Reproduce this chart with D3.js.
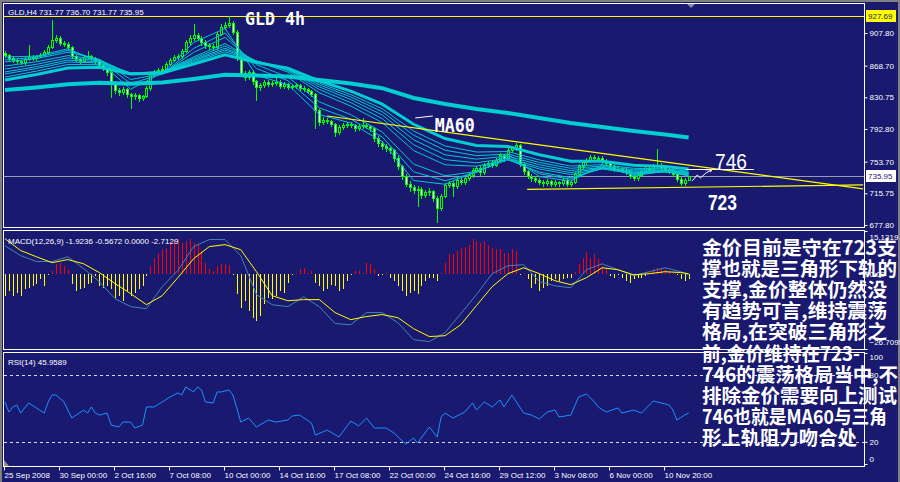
<!DOCTYPE html>
<html><head><meta charset="utf-8">
<script src="https://cdn.jsdelivr.net/npm/d3@7"></script>
<style>
html,body{margin:0;padding:0;background:#808080;}
svg{display:block;}
</style></head><body>
<svg id="c" width="900" height="482"></svg>
<script>
// ---------------- DATA ----------------
const firstOpen = 883.5;
const closes = [881.5,877.9,875.5,874.3,873.1,876.7,879.1,877.9,880.3,881.5,
885.0,891.0,899.4,901.8,895.8,894.6,891.0,880.3,876.7,874.3,
879.1,880.3,877.9,874.3,869.5,865.9,861.1,846.7,839.5,837.1,
840.7,834.7,832.3,833.5,829.9,832.3,841.9,858.7,861.1,863.5,
864.7,870.7,875.5,879.1,880.3,886.2,897.0,901.8,905.4,901.8,
897.0,893.4,892.2,891.0,906.6,915.0,917.4,919.8,909.0,877.9,
859.9,855.1,861.1,850.3,843.1,845.5,849.1,846.7,847.9,849.1,
844.3,846.7,843.1,844.3,845.5,841.9,840.7,838.3,834.7,815.6,
801.2,803.6,802.4,798.8,789.2,795.2,797.6,798.8,797.6,794.0,
796.4,797.6,796.4,794.0,782.0,776.1,772.5,770.1,767.7,758.1,
748.5,736.6,727.0,723.4,719.8,721.0,713.8,717.4,718.6,710.2,
698.2,712.6,725.8,728.2,724.6,731.8,729.4,734.2,737.7,743.7,
746.1,741.4,749.7,752.1,749.7,755.7,761.7,758.1,767.7,770.1,
773.7,751.0,742.5,736.6,734.2,731.8,729.4,728.2,730.6,727.0,
729.4,728.2,731.8,727.0,729.4,739.0,748.5,753.3,755.7,759.3,
758.1,758.1,754.5,752.1,748.5,744.9,744.9,743.7,741.4,736.6,
734.2,737.7,742.5,746.1,743.7,748.5,749.7,746.1,743.7,742.5,
739.0,733.0,728.2,731.77,735.95];
const highs = [886,883,880,878,876,879,893,882,882,884,
887,893,923,906,904,898,897,892,882,878,
881,886,882,879,876,871,867,862,848,842,
843,842,836,836,835,834,844,861,864,866,
868,873,878,882,883,889,900,905,918,908,
904,899,896,895,909,918,921,927.69,922,911,
880,862,864,863,852,848,852,851,850,857,
851,849,848,847,848,847,844,842,840,836,
817,807,806,804,800,797,800,801,801,799,
799,806,800,798,795,784,778,775,772,769,
760,750,739,730,726,724,723,720,722,720,
712,715,728,731,730,734,734,737,740,746,
749,748,752,755,754,758,764,763,770,773,
776,775,753,744,739,737,734,732,733,732,
732,731,734,733,732,741,751,756,758,762,
762,761,760,757,754,751,748,747,746,743,
739,740,745,749,748,751,769,752,748,746,
744,741,735,734,736.70];
const lows = [879,876,873,872,871,871,875,876,876,879,
880,884,890,897,894,892,889,878,874,872,
873,878,876,872,867,863,858,831,836,834,
835,831,818,829,826,827,831,840,856,859,
861,863,869,874,877,878,885,895,900,899,
894,890,889,888,889,905,913,915,907,875,
856,852,853,847,827,840,843,844,844,845,
842,842,841,841,842,839,838,836,832,794,
798,799,800,796,785,787,793,795,795,791,
792,794,794,791,779,773,769,767,764,755,
745,733,724,719,716,700,710,711,714,706,
681,696,711,723,712,722,727,727,732,735,
741,738,739,747,747,748,753,755,756,765,
768,748,739,734,731,729,727,725,726,724,
725,725,726,724,725,728,737,746,751,753,
755,755,752,750,746,742,742,741,739,734,
732,732,736,740,741,742,746,744,741,740,
736,730,726,726,731.77];

// moving averages sampled at bar indices
const maIdx = [0,8,16,24,32,40,48,56,64,72,80,88,96,104,112,120,128,136,144,152,160,168,174];
const maF10 = [879.1,880.1,888.9,873.3,840.5,859.9,896.4,913.3,857.1,845.9,810.1,800.0,777.8,731.1,726.6,742.1,762.5,735.8,730.4,749.5,737.0,742.2,736.5];
const maF15 = [875.5,878.7,886.9,875.5,847.2,858.6,889.3,907.8,865.3,850.7,818.1,804.6,783.3,741.5,730.9,740.7,758.3,739.2,732.6,746.9,738.3,741.7,737.4];
const maF20 = [873.1,877.1,884.7,876.3,852.1,858.9,884.5,902.6,869.9,855.1,825.3,810.0,789.2,750.8,736.8,741.8,756.0,741.2,734.5,745.3,739.1,741.5,737.9];
const maL30 = [868.3,873.3,880.7,876.1,858.1,860.9,879.2,895.1,873.6,861.0,836.3,820.3,800.5,767.0,749.9,748.2,756.1,744.9,738.3,744.9,740.4,741.7,738.9];
const maL35 = [864.7,870.3,878.0,874.8,859.2,861.2,877.5,892.2,874.2,862.8,840.1,824.4,805.3,773.9,756.1,752.3,757.8,747.2,740.6,745.7,741.3,742.2,739.5];
const maL40 = [861.1,867.5,875.3,873.3,859.8,861.3,875.9,889.5,874.2,864.0,843.2,828.1,809.6,779.9,761.9,756.7,760.3,750.0,743.0,746.7,742.5,742.9,740.4];
const maL45 = [858.7,865.2,873.0,871.9,860.0,861.5,874.7,887.5,874.2,864.8,845.7,831.2,813.6,785.4,767.4,760.9,762.8,752.7,745.7,748.3,744.0,743.9,741.2];
const maL50 = [855.1,862.1,870.0,869.9,859.5,861.0,873.2,885.3,873.8,865.4,847.8,834.0,817.1,790.3,772.5,765.2,765.8,755.7,748.4,750.1,745.7,745.1,742.3];
const ma60  = [851.5,858.2,865.9,866.7,858.6,860.0,870.7,881.6,872.5,865.5,850.5,838.1,822.6,798.5,781.4,773.1,771.8,761.9,754.2,754.2,749.4,747.9,744.9];
const maSlow= [839.5,842.6,846.3,848.1,846.9,848.4,852.8,857.9,856.8,855.7,851.5,847.4,841.7,829.9,822.7,816.7,811.9,805.9,799.9,795.1,790.3,786.1,782.5];

// MACD
const macdHist = [-8.0,-6.2,-8.0,-6.9,-8.0,-5.6,-5.0,-4.4,-3.8,-2.0,
-4.4,-0.4,0.8,3.3,3.9,2.8,1.2,-3.8,-6.2,-5.6,
-5.0,-3.8,-3.2,-1.0,-4.4,-5.0,-4.4,-5.6,-8.5,-8.0,
-9.7,-6.2,-8.0,-6.9,-5.6,-4.4,-0.8,2.7,5.7,7.4,
8.6,9.2,11.0,11.6,12.2,11.0,11.6,12.2,11.0,10.4,
8.0,3.9,1.5,0.9,2.7,3.3,3.5,3.0,-0.2,-7.3,
-12.1,-9.7,-13.2,-15.6,-16.8,-15.0,-10.9,-8.5,-9.1,-8.0,
-6.2,-6.9,-3.2,-0.2,0.4,1.5,2.1,0.3,0.9,-3.2,
-4.4,-6.2,-5.6,-4.0,-4.4,-6.2,-5.6,-2.6,-0.2,0.9,
0.9,0.3,3.9,3.3,1.5,-0.8,-0.5,0.2,-1.4,-2.6,
-4.4,-6.2,-8.0,-7.0,-6.2,-7.3,-4.4,-2.6,-1.4,-1.4,
-2.6,0.4,3.9,6.9,6.9,8.0,9.0,9.5,10.2,12.2,
11.6,11.0,11.6,10.0,9.2,8.8,8.6,7.4,7.4,8.6,
8.0,-0.2,0.4,-2.0,-5.0,-3.8,-6.2,-5.0,-4.4,-2.6,
-2.0,-2.6,-2.0,-1.6,-1.4,0.5,3.3,5.7,7.8,5.7,
6.9,5.2,2.7,1.5,-0.8,-1.4,-0.2,-1.4,-2.6,-3.2,
-2.0,-1.4,-1.4,-0.8,0.9,1.5,2.1,2.1,1.5,0.9,
0.2,-0.5,-2.0,-2.6,-2.0];
const macdIdx = [0,4,8,12,16,20,24,28,32,36,40,44,48,52,56,60,64,68,72,76,80,84,88,92,96,100,104,108,112,116,120,124,128,132,136,140,144,148,152,156,160,164,168,172,174];
const macdMain = [9.9,6.4,4.3,4.3,6.0,1.8,-2.8,-8.9,-11.7,-12.4,-4.6,1.1,9.6,12.1,12.1,6.4,-7.4,-11.0,-11.7,-8.2,-11.7,-17.7,-18.1,-13.8,-13.8,-17.4,-23.4,-24.1,-20.9,-14.2,-7.4,0.0,2.8,3.2,-2.8,-4.3,-5.0,1.4,3.5,1.4,-0.7,0.7,2.1,0.7,-0.4];
const macdSignal = [12.4,8.2,6.0,3.9,5.0,3.5,0.4,-3.5,-7.1,-11.0,-7.8,-1.4,5.3,9.6,10.3,8.5,0.7,-7.8,-9.6,-9.2,-9.2,-13.8,-16.3,-15.2,-14.5,-15.6,-19.5,-22.3,-22.0,-18.1,-11.3,-4.6,0.0,2.1,0.0,-2.5,-3.9,-1.4,2.1,1.4,-0.4,0.0,0.7,0.4,0.0];
const macdTicks = [15.1319, 0, -26.7095];

// RSI
const rsiIdx = [0,1,2,3,4,6,8,10,11,12,13,15,17,20,21,22,23,24,26,27,29,30,32,33,35,36,38,40,42,44,45,46,48,49,50,51,53,54,55,57,58,59,60,62,64,67,69,72,73,75,78,79,82,85,88,90,92,94,97,99,102,104,105,108,110,111,112,114,117,119,120,122,124,126,127,129,132,134,136,138,140,141,144,146,148,150,151,153,156,157,160,162,165,169,170,171,173,174];
const rsiVals = [55.9,46.8,51.4,53.2,45.9,55.0,50.5,45.9,55.9,62.2,62.2,55.9,41.4,48.6,45.9,51.4,45.9,44.1,45.9,35.1,33.3,37.8,37.8,32.4,35.1,51.4,51.4,55.9,60.4,64.0,62.2,69.4,64.9,69.4,66.7,55.9,55.0,64.9,64.9,66.7,62.2,50.5,37.8,41.4,33.3,39.6,37.8,39.6,43.2,44.1,36.9,26.1,30.6,24.3,38.7,34.2,41.4,32.4,32.4,27.9,18.0,23.4,18.9,33.3,24.3,42.3,45.9,41.4,46.8,55.0,48.6,55.9,51.4,57.7,51.4,62.2,45.9,44.1,40.5,46.8,48.6,42.3,44.1,60.4,63.1,55.9,51.4,46.8,50.5,45.9,48.6,45.9,56.8,53.2,48.6,39.6,44.1,45.96];
const rsiLevels = [80, 20];
const rsiTicks = [100, 80, 20, 0];

// axes
const priceTicks = [907.80, 868.70, 830.75, 792.80, 753.70, 715.75, 677.80];
const timeTickBars = [0,14,28,42,56,70,84,98,112,126,140,154,168];
const timeTickLabels = ["25 Sep 2008","30 Sep 00:00","2 Oct 16:00","7 Oct 08:00","10 Oct 00:00","14 Oct 16:00","17 Oct 08:00","22 Oct 00:00","24 Oct 16:00","29 Oct 12:00","3 Nov 08:00","6 Nov 00:00","10 Nov 20:00"];

// objects
const highLinePrice = 927.69;
const lastPrice = 735.95;
const trendUpper = [[82.0, 808.4], [218.4, 721.0]];
const trendLower = [[132.9, 720.4], [218.4, 725.8]];
const headerText = "GLD,H4  731.77 736.70 731.77 735.95";
const macdLabel = "MACD(12,26,9) -1.9236 -0.5672 0.0000 -2.7129";
const rsiLabel = "RSI(14) 45.9589";
const noteLines = ["金价目前是守在723支","撑也就是三角形下轨的","支撑,金价整体仍然没","有趋势可言,维持震荡","格局,在突破三角形之","前,金价维持在723-","746的震荡格局当中,不","排除金价需要向上测试","746也就是MA60与三角","形上轨阻力吻合处"];

// ---------------- DRAW ----------------
const BG = '#191970';
const svg = d3.select('#c');
svg.append('rect').attr('width',900).attr('height',482).attr('fill','#808080');
svg.append('rect').attr('x',2).attr('y',2).attr('width',896).attr('height',480).attr('fill',BG);

const x = d3.scaleLinear().domain([0, 174]).range([5, 5 + 174*3.929]);
const yM = d3.scaleLinear().domain([677.8, 907.8]).range([225, 33]);
const yD = d3.scaleLinear().domain([-26.7095, 15.1319]).range([349, 231]);
const yR = d3.scaleLinear().domain([0, 100]).range([464, 353]);
const px = v => Math.round(v) + 0.5;
const bx = i => Math.round(x(i));

const defs = svg.append('defs');
defs.append('clipPath').attr('id','cm').append('rect').attr('x',4).attr('y',4).attr('width',860).attr('height',223);
defs.append('clipPath').attr('id','cd').append('rect').attr('x',4).attr('y',231).attr('width',860).attr('height',118);
defs.append('clipPath').attr('id','cr').append('rect').attr('x',4).attr('y',353).attr('width',860).attr('height',113);

// panel frames
const frame = svg.append('g').attr('fill','none').attr('stroke','#ffffff').attr('shape-rendering','crispEdges');
frame.append('rect').attr('x',3.5).attr('y',3.5).attr('width',861).attr('height',224);
frame.append('rect').attr('x',3.5).attr('y',230.5).attr('width',861).attr('height',119);
frame.append('rect').attr('x',3.5).attr('y',352.5).attr('width',861).attr('height',114);

// ---- main panel
const gM = svg.append('g').attr('clip-path','url(#cm)');
gM.append('rect').attr('x',4).attr('width',860).attr('y',Math.round(yM(highLinePrice))).attr('height',1).attr('fill','#ffff00');
gM.append('rect').attr('x',4).attr('width',860).attr('y',Math.round(yM(lastPrice))).attr('height',1).attr('fill','#9a9ab8');

// candles
const opens = closes.map((c,i) => i === 0 ? firstOpen : closes[i-1]);
const bars = closes.map((c,i) => {
  const o = opens[i];
  const top = Math.round(yM(Math.max(o,c))), bot = Math.round(yM(Math.min(o,c)));
  return {i, o, c, top, bot, yh: Math.round(yM(highs[i])), yl: Math.round(yM(lows[i]))};
});
const cg = gM.append('g');
cg.selectAll('rect.w').data(bars).join('rect').attr('class','w')
  .attr('x', d => bx(d.i)).attr('width',1)
  .attr('y', d => d.yh).attr('height', d => d.yl - d.yh + 1)
  .attr('fill','#00ff00');
cg.selectAll('rect.b').data(bars).join('rect').attr('class','b')
  .attr('x', d => bx(d.i) - 1).attr('width',3)
  .attr('y', d => d.top).attr('height', d => Math.max(1, d.bot - d.top) + 1)
  .attr('fill','#00ff00');
cg.selectAll('rect.k').data(bars.filter(d => d.bot - d.top >= 2)).join('rect').attr('class','k')
  .attr('x', d => bx(d.i)).attr('width',1)
  .attr('y', d => d.top + 1).attr('height', d => d.bot - d.top - 1)
  .attr('fill', d => d.c < d.o ? '#ffffff' : BG);

// moving averages
const maLine = d3.line().x(d => x(d[0])).y(d => yM(d[1]));
[maF10, maF15, maF20, maL30, maL35, maL40, maL45, maL50].forEach(arr => {
  gM.append('path').attr('d', maLine(maIdx.map((k,j) => [k, arr[j]])))
    .attr('fill','none').attr('stroke','#00c8d0').attr('stroke-width',1);
});
gM.append('path').attr('d', maLine(maIdx.map((k,j) => [k, ma60[j]])))
  .attr('fill','none').attr('stroke','#00ced1').attr('stroke-width',3);
gM.append('path').attr('d', maLine(maIdx.map((k,j) => [k, maSlow[j]])))
  .attr('fill','none').attr('stroke','#00ced1').attr('stroke-width',4);

// trendlines
[trendUpper, trendLower].forEach(t => {
  gM.append('line').attr('x1', x(t[0][0])).attr('y1', yM(t[0][1])).attr('x2', x(t[1][0])).attr('y2', yM(t[1][1]))
    .attr('stroke','#ffff00').attr('stroke-width',1.2);
});

// annotations (anchored in bar/price units)
const annLine = d3.line().x(d => x(d[0])).y(d => yM(d[1]));
gM.append('path').attr('d', annLine([[104.4,806.0],[108.9,808.4]])).attr('stroke','#ffffff').attr('fill','none');
gM.append('path').attr('d', annLine([[173.3,744.3],[190.6,744.3]])).attr('stroke','#ffffff').attr('fill','none');
gM.append('path').attr('d', annLine([[174.9,730.6],[176.2,737.7],[177.0,734.2],[178.4,740.1],[179.9,744.0]])).attr('stroke','#ffffff').attr('fill','none');
gM.append('path').attr('d', annLine([[178.2,744.0],[179.9,744.0],[179.5,741.0]])).attr('stroke','#ffffff').attr('fill','none');

svg.append('text').attr('x',245).attr('y',25).text('GLD 4h')
  .attr('font-family','DejaVu Sans Mono').attr('font-weight','bold').attr('font-size',18)
  .attr('textLength',60).attr('lengthAdjust','spacingAndGlyphs').attr('fill','#ffffff');
gM.append('text').attr('x', x(109.4)).attr('y', yM(789.2)).text('MA60')
  .attr('font-family','DejaVu Sans Mono').attr('font-weight','bold').attr('font-size',19)
  .attr('textLength',40).attr('lengthAdjust','spacingAndGlyphs').attr('fill','#ffffff');
gM.append('text').attr('x', x(180.7)).attr('y', yM(744.9)).text('746')
  .attr('font-family','Liberation Sans').attr('font-size',22)
  .attr('textLength',32).attr('lengthAdjust','spacingAndGlyphs').attr('fill','#ffffff');
gM.append('text').attr('x', x(178.9)).attr('y', yM(695.8)).text('723')
  .attr('font-family','Liberation Sans').attr('font-weight','bold').attr('font-size',22)
  .attr('textLength',29).attr('lengthAdjust','spacingAndGlyphs').attr('fill','#ffffff');

const small = sel => sel.attr('font-family','Liberation Sans, Arial, sans-serif').attr('font-size',8).attr('fill','#ffffff');
small(svg.append('text').attr('x',8).attr('y',15).text(headerText));

// shift marker
svg.append('path').attr('d','M687,4 L695,4 L691,8 Z').attr('fill','#8090a0');

// price axis
const axP = svg.append('g').attr('transform','translate(864.5,0)')
  .call(d3.axisRight(yM).tickValues(priceTicks).tickFormat(d3.format('.2f')).tickSize(3).tickPadding(2));
axP.select('.domain').remove();
axP.selectAll('line').attr('stroke','#ffffff');
small(axP.selectAll('text'));

// price boxes
[[highLinePrice,'#ffff00'],[lastPrice,'#ffffff']].forEach(([v,col]) => {
  const yy = Math.round(yM(v));
  svg.append('rect').attr('x',866).attr('y',yy-6).attr('width',30).attr('height',12).attr('fill',col);
  svg.append('text').attr('x',868).attr('y',yy+3).text(d3.format('.2f')(v))
    .attr('font-family','Liberation Sans, Arial, sans-serif').attr('font-size',8).attr('fill',BG);
});

// ---- MACD panel
const gD = svg.append('g').attr('clip-path','url(#cd)');
const y0 = Math.round(yD(0));
gD.selectAll('rect.h').data(macdHist.map((v,i) => ({i,v}))).join('rect').attr('class','h')
  .attr('x', d => bx(d.i)).attr('width',1)
  .attr('y', d => d.v >= 0 ? Math.round(yD(d.v)) : y0)
  .attr('height', d => Math.max(1, Math.abs(Math.round(yD(d.v)) - y0)))
  .attr('fill', d => d.v >= 0 ? '#ff0000' : '#ffff00');
const dLine = d3.line().x(d => x(d[0])).y(d => yD(d[1]));
gD.append('path').attr('d', dLine(macdIdx.map((k,j) => [k, macdMain[j]])))
  .attr('fill','none').attr('stroke','#4682b4').attr('stroke-width',1);
gD.append('path').attr('d', dLine(macdIdx.map((k,j) => [k, macdSignal[j]])))
  .attr('fill','none').attr('stroke','#ffff00').attr('stroke-width',1);
small(svg.append('text').attr('x',8).attr('y',244).text(macdLabel));
const axD = svg.append('g').attr('transform','translate(864.5,0)')
  .call(d3.axisRight(yD).tickValues(macdTicks).tickFormat(d => d === 0 ? '0.00' : d3.format('.4f')(d)).tickSize(3).tickPadding(2));
axD.select('.domain').remove();
axD.selectAll('line').attr('stroke','#ffffff');
small(axD.selectAll('text'));
axD.selectAll('.tick').filter(d => d > 1).select('text').attr('dy','1.0em');
axD.selectAll('.tick').filter(d => d < -1).select('text').attr('dy','-0.6em');

// ---- RSI panel
const gR = svg.append('g').attr('clip-path','url(#cr)');
rsiLevels.forEach(v => {
  gR.append('line').attr('x1',4).attr('x2',864).attr('y1',px(yR(v))).attr('y2',px(yR(v)))
    .attr('stroke','#d8d8e8').attr('stroke-dasharray','3,3').attr('shape-rendering','crispEdges');
});
const rLine = d3.line().x(d => x(d[0])).y(d => yR(d[1]));
gR.append('path').attr('d', rLine(rsiIdx.map((k,j) => [k, rsiVals[j]])))
  .attr('fill','none').attr('stroke','#1e90ff').attr('stroke-width',1);
small(svg.append('text').attr('x',8).attr('y',365).text(rsiLabel));
const axR = svg.append('g').attr('transform','translate(864.5,0)')
  .call(d3.axisRight(yR).tickValues(rsiTicks).tickFormat(d3.format('d')).tickSize(3).tickPadding(2));
axR.select('.domain').remove();
axR.selectAll('line').attr('stroke','#ffffff');
small(axR.selectAll('text'));
axR.selectAll('.tick').filter(d => d === 100).select('text').attr('dy','0.75em');
axR.selectAll('.tick').filter(d => d === 0).select('text').attr('dy','-0.3em');
svg.append('path').attr('d','M4,460 L4,466 L9,466 Z').attr('fill','#909090');

// ---- time axis
const axT = svg.append('g').attr('transform','translate(-1,466.5)')
  .call(d3.axisBottom(x).tickValues(timeTickBars).tickFormat((d,i) => timeTickLabels[i]).tickSize(4).tickPadding(2));
axT.select('.domain').remove();
axT.selectAll('line').attr('stroke','#ffffff');
small(axT.selectAll('text')).attr('text-anchor','start').attr('x',0);

// ---- commentary text (widths matched to the reference lines)
const noteWidths = [195,195,185,185,185,158,196,195,185,155];
const note = svg.append('g').attr('font-family','Noto Sans CJK SC').attr('font-weight','bold')
  .attr('font-size',19.5).attr('fill','#ffffff');
note.selectAll('text').data(noteLines).join('text')
  .attr('x',702).attr('y',(d,i) => 255 + i*21.1)
  .attr('textLength',(d,i) => noteWidths[i]).attr('lengthAdjust','spacingAndGlyphs')
  .text(d => d);
</script>
</body></html>
